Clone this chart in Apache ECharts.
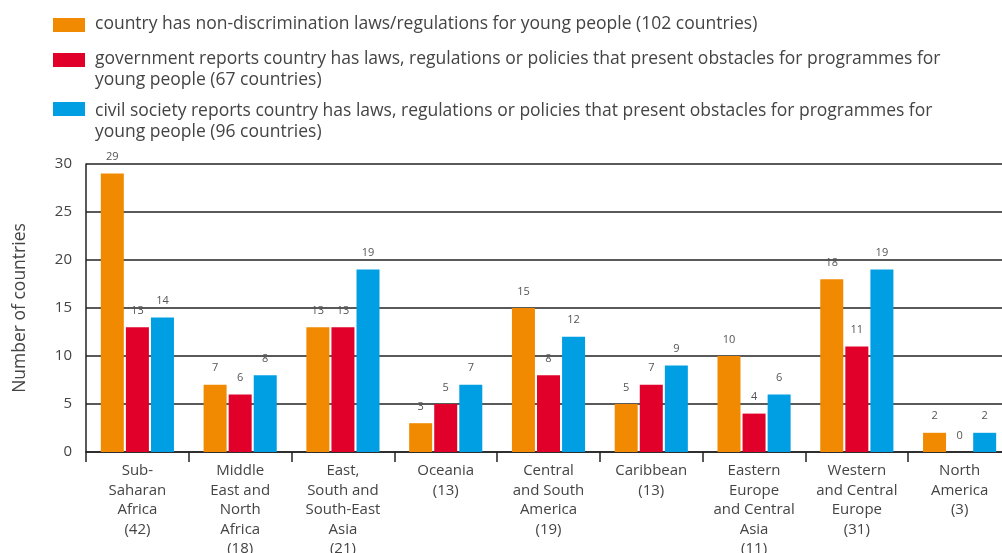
<!DOCTYPE html>
<html>
<head>
<meta charset="utf-8">
<script src="https://cdn.jsdelivr.net/npm/echarts@6/dist/echarts.min.js"></script>
<style>
  html, body { margin: 0; padding: 0; background: #fff; }
  #chart { width: 1002px; height: 553px; }
</style>
</head>
<body>
<div id="chart"></div>
<script>
// regions (with number of countries in brackets)
const regions = [
  'Sub-\nSaharan\nAfrica\n(42)',
  'Middle\nEast and\nNorth\nAfrica\n(18)',
  'East,\nSouth and\nSouth-East\nAsia\n(21)',
  'Oceania\n(13)',
  'Central\nand South\nAmerica\n(19)',
  'Caribbean\n(13)',
  'Eastern\nEurope\nand Central\nAsia\n(11)',
  'Western\nand Central\nEurope\n(31)',
  'North\nAmerica\n(3)'
]
const nonDiscrimination = [29, 7, 13, 3, 15, 5, 10, 18, 2]
const govObstacles = [13, 6, 13, 5, 8, 7, 4, 11, 0]
const civilObstacles = [14, 8, 19, 7, 12, 9, 6, 19, 2]
const seriesNames = [
  'country has non-discrimination laws/regulations for young people (102 countries)',
  'government reports country has laws, regulations or policies that present obstacles for programmes for\nyoung people (67 countries)',
  'civil society reports country has laws, regulations or policies that present obstacles for programmes for\nyoung people (96 countries)'
]
const colors = ['#f18a00', '#e0002a', '#009fe3']

const FONT = 'Open Sans'
const TEXT = '#444'
const chart = echarts.init(document.getElementById('chart'))

// legend drawn as graphic so the swatch lines up with the first text line
const swatchTops = [18, 53, 102]
const textTops = [14, 49, 101]
const legendGraphic = []
seriesNames.forEach((name, i) => {
  legendGraphic.push({
    type: 'rect',
    left: 53,
    top: swatchTops[i],
    shape: { width: 32, height: 14 },
    style: { fill: colors[i] }
  })
  legendGraphic.push({
    type: 'text',
    left: 95,
    top: textTops[i],
    style: {
      text: name,
      font: '17.5px "' + FONT + '"',
      fill: TEXT,
      lineHeight: 21
    }
  })
})

const mkSeries = (name, data, color) => ({
  name: name,
  type: 'bar',
  data: data,
  barWidth: 23,
  barGap: '9%',
  itemStyle: { color: color },
  label: {
    show: true,
    position: 'top',
    distance: 11,
    fontFamily: FONT,
    fontSize: 11,
    color: '#555'
  }
})

const option = {
  animation: false,
  color: colors,
  graphic: legendGraphic,
  grid: {
    left: 86,
    right: -9,
    top: 164,
    bottom: 101,
    containLabel: false,
    outerBoundsMode: 'none'
  },
  xAxis: {
    type: 'category',
    data: regions,
    axisLine: { show: true, lineStyle: { color: '#222', width: 1.5 } },
    axisTick: { show: true, length: 10, lineStyle: { color: '#222', width: 1.5 } },
    axisLabel: {
      interval: 0,
      margin: 9,
      fontFamily: FONT,
      fontSize: 15,
      lineHeight: 19.5,
      color: TEXT,
      verticalAlign: 'top'
    }
  },
  yAxis: {
    type: 'value',
    min: 0,
    max: 30,
    interval: 5,
    name: 'Number of countries',
    nameLocation: 'middle',
    nameGap: 57,
    nameRotate: 90,
    nameTextStyle: { fontFamily: FONT, fontSize: 17.5, color: TEXT },
    axisLine: { show: true, lineStyle: { color: '#222', width: 1.5 } },
    axisTick: { show: false },
    axisLabel: { fontFamily: FONT, fontSize: 15, color: TEXT, margin: 14 },
    splitLine: { show: true, lineStyle: { color: '#222', width: 1.5 } }
  },
  series: [
    mkSeries(seriesNames[0], nonDiscrimination, colors[0]),
    mkSeries(seriesNames[1], govObstacles, colors[1]),
    mkSeries(seriesNames[2], civilObstacles, colors[2])
  ]
}
chart.setOption(option)
</script>
</body>
</html>
